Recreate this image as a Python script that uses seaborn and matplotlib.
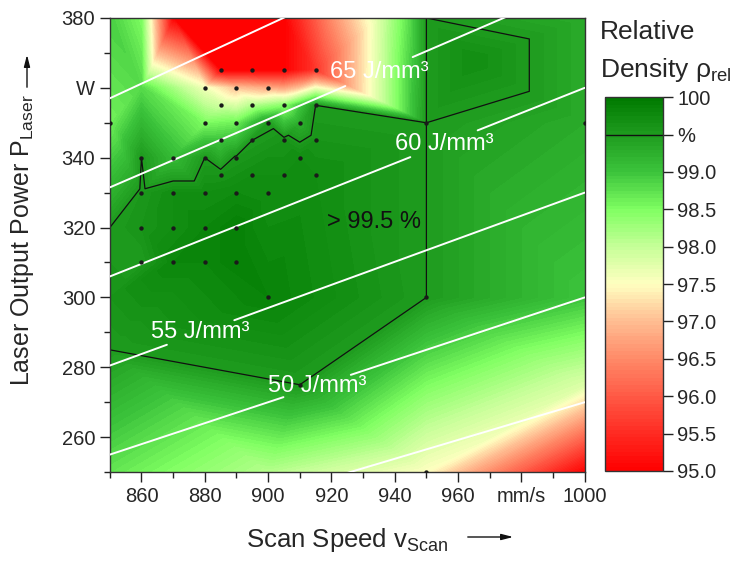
import numpy as np
import matplotlib
matplotlib.use("Agg")
import matplotlib.pyplot as plt
import matplotlib.tri as mtri
from matplotlib.colors import LinearSegmentedColormap
import seaborn as sns

# measured specimens: scan speed (mm/s), laser power (W), relative density (%)
speed = [885, 895, 905, 915,
         880, 890, 900,
         885, 895, 905, 915,
         850, 880, 890, 900, 910, 950, 1000,
         885, 895, 905, 915,
         860, 870, 880, 890, 910,
         885, 895, 905, 915,
         860, 870, 880, 890, 900,
         860, 870, 880, 890,
         860, 870, 880, 890,
         900, 950, 910, 950]
power = [365, 365, 365, 365,
         360, 360, 360,
         355, 355, 355, 355,
         350, 350, 350, 350, 350, 350, 350,
         345, 345, 345, 345,
         340, 340, 340, 340, 340,
         335, 335, 335, 335,
         330, 330, 330, 330, 330,
         320, 320, 320, 320,
         310, 310, 310, 310,
         300, 300, 275, 250]
density = [95.0, 95.0, 95.0, 95.6,
           97.6, 97.0, 96.8,
           97.9, 98.1, 98.4, 99.5,
           98.6, 98.5, 98.6, 99.45, 99.25, 99.5, 99.3,
           99.0, 99.5, 99.6, 99.6,
           99.5, 99.1, 99.5, 99.55, 99.7,
           99.6, 99.7, 99.7, 99.7,
           99.55, 99.7, 99.7, 99.75, 99.7,
           99.6, 99.7, 99.8, 99.9,
           99.5, 99.8, 99.8, 99.9,
           99.85, 99.5, 99.5, 97.5]

# extrapolated support values (no specimen)
edge_speed = [850, 860, 870, 905, 920, 935, 945, 950, 965, 1000,
              860, 850, 850, 850, 850, 900, 1000, 1000, 1000]
edge_power = [380, 380, 380, 380, 380, 380, 380, 380, 368, 380,
              360, 320, 300, 285, 250, 250, 300, 275, 250]
edge_density = [98.9, 98.5, 95.0, 95.0, 96.5, 97.8, 98.8, 99.5, 99.7, 99.3,
                98.8, 99.5, 99.6, 99.5, 98.7, 98.1, 99.0, 97.8, 95.0]

# volume energy density lines E = P / (v * h * t)
energy = [45, 50, 55, 60, 65, 70]
hatch = 0.1    # mm
layer = 0.06   # mm
label_energy = [50, 55, 60, 65]
label_speed = [915.4, 878.7, 955.5, 935.0]

cb_ticks = [95.0, 95.5, 96.0, 96.5, 97.0, 97.5, 98.0, 98.5, 99.0, 99.5, 100.0]
cb_labels = ["95.0", "95.5", "96.0", "96.5", "97.0", "97.5", "98.0", "98.5", "99.0", "%", "100"]

cmap = LinearSegmentedColormap.from_list("dens", [
    (0.0, "#ff0000"), (0.1, "#ff2b22"), (0.2, "#ff5a46"), (0.3, "#ff8a68"),
    (0.4, "#ffbd92"), (0.5, "#ffffc0"), (0.6, "#c6ff98"), (0.7, "#80ff62"),
    (0.8, "#3cc43c"), (0.9, "#1f9c1f"), (1.0, "#007a00")])

sns.set_style("ticks")
plt.rcParams['font.family'] = ['Liberation Sans', 'DejaVu Sans']
plt.rcParams['mathtext.fontset'] = 'custom'
plt.rcParams['mathtext.rm'] = 'Liberation Sans'
plt.rcParams['mathtext.it'] = 'Liberation Sans:italic'

fig = plt.figure(figsize=(7.42, 5.62), dpi=100)
ax = fig.add_axes([0.148, 0.160, 0.640, 0.808])
cax = fig.add_axes([0.815, 0.162, 0.078, 0.665])

v = np.array(speed + edge_speed, dtype=float)
p = np.array(power + edge_power, dtype=float)
rho = np.array(density + edge_density)
tri = mtri.Triangulation(v, p)
levels = np.linspace(95, 100, 101)
cf = ax.tricontourf(tri, rho, levels=levels, cmap=cmap, vmin=95, vmax=100)
ax.tricontour(tri, rho, levels=[99.5], colors='#111111', linewidths=0.9)

sns.scatterplot(x=speed, y=power, color='#1a1a1a', s=10, linewidth=0, ax=ax, zorder=5, legend=False)

# iso energy lines with gaps for labels
vv = np.linspace(850, 1000, 600)
for E in energy:
    pp = E * hatch * layer * vv
    if E in label_energy:
        v0 = label_speed[label_energy.index(E)]
        pp = np.where(np.abs(vv - v0) < 10.5, np.nan, pp)
    ax.plot(vv, pp, color='white', lw=1.4, zorder=4)
for E, v0 in zip(label_energy, label_speed):
    ax.text(v0, E * hatch * layer * v0, f"{E} J/mm³", color='white', fontsize=17,
            ha='center', va='center', zorder=6)
ax.text(933.4, 321.5, "> 99.5 %", color='#111111', fontsize=17, ha='center', va='center', zorder=6)

ax.set_xlim(850, 1000)
ax.set_ylim(250, 380)
ax.set_xticks([860, 880, 900, 920, 940, 960, 980, 1000])
ax.set_xticklabels(["860", "880", "900", "920", "940", "960", "mm/s", "1000"])
ax.set_xticks(np.arange(850, 1001, 10), minor=True)
ax.set_yticks([260, 280, 300, 320, 340, 360, 380])
ax.set_yticklabels(["260", "280", "300", "320", "340", "W", "380"])
ax.set_yticks(np.arange(250, 381, 10), minor=True)
ax.tick_params(which='major', direction='out', length=7, width=1, labelsize=14.5, color='#222222')
ax.tick_params(which='minor', direction='out', length=4, width=1, color='#222222')
for s in ax.spines.values():
    s.set_linewidth(1)
    s.set_color('#333333')

ax.set_xlabel("Scan Speed v$_\\mathregular{Scan}$", fontsize=18.5, labelpad=15)
ax.set_ylabel("Laser Output Power P$_\\mathregular{Laser}$", fontsize=18)
ax.yaxis.set_label_coords(-0.155, 0.51)

arrow = dict(arrowstyle='-|>,head_length=0.7,head_width=0.18', color='#111111', lw=1)
ax.annotate('', xy=(516, 25), xytext=(465, 25), xycoords='figure pixels',
            textcoords='figure pixels', arrowprops=arrow)
ax.annotate('', xy=(27, 510), xytext=(27, 472), xycoords='figure pixels',
            textcoords='figure pixels', arrowprops=arrow)

cb = fig.colorbar(cf, cax=cax, ticks=cb_ticks)
cb.set_ticklabels(cb_labels)
cb.outline.set_linewidth(1)
cb.outline.set_edgecolor('#333333')
cax.tick_params(length=7, width=1, labelsize=14.5, color='#222222')
cax.axhline(99.5, color='#111111', lw=1)

fig.text(600 / 742, 1 - 32 / 562, "Relative", fontsize=19, va='center')
fig.text(600 / 742, 1 - 70 / 562, "Density ρ$_\\mathregular{rel}$", fontsize=19, va='center')

fig.savefig("out.png", dpi=100)
